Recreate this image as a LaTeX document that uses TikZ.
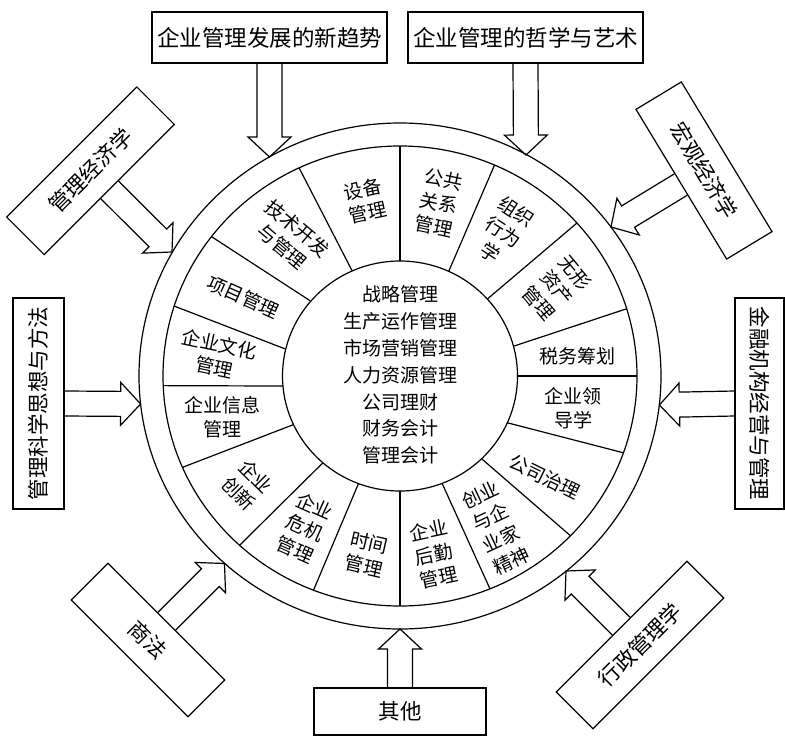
\documentclass[tikz,border=0pt]{standalone}
\usepackage{fontspec}
\setmainfont{Noto Sans CJK SC}
\usetikzlibrary{calc}
\tikzset{
  ring/.style={line width=1.2pt},
  seg/.style={align=center, inner sep=0pt, font=\fontsize{19}{24}\selectfont},
  obox/.style={draw, line width=1.2pt, inner sep=0pt, fill=white, font=\fontsize{21.5}{26}\selectfont},
  harr/.style={line width=1.2pt, line join=miter},
}
\newcommand\hollowarr[2]{%
  \coordinate (ha-s) at (#1);
  \coordinate (ha-t) at (#2);
  \coordinate (ha-b) at ($(ha-t)!20pt!(ha-s)$);
  \draw[harr] ($(ha-s)!12.5pt!90:(ha-t)$) -- ($(ha-b)!12.5pt!90:(ha-t)$) -- ($(ha-b)!21.5pt!90:(ha-t)$) -- (ha-t) -- ($(ha-b)!21.5pt!-90:(ha-t)$) -- ($(ha-b)!12.5pt!-90:(ha-t)$) -- ($(ha-s)!12.5pt!-90:(ha-t)$);
}
\begin{document}
\begin{tikzpicture}[x=1pt,y=-1pt]
\useasboundingbox (0,0) rectangle (785,737);
\fill[white] (0,0) rectangle (785,737);
% rings
\draw[ring] (400,376) ellipse [x radius=261pt, y radius=253pt];
\draw[ring] (400,376) ellipse [x radius=237pt, y radius=230pt];
\draw[ring] (400,376) ellipse [x radius=117.5pt, y radius=115pt];
% dividers
\foreach \a/\b in {90/90, 65.5/66.5, 42/41.7, 15/17, 0/0, -24/-19.5, -46/-44, -69/-67.7, -90/-90, -110.7/-111.4, -131/-132.6, -155/-156.6, -175/-177.6, 166.5/162.3, 139.4/142.7, 114/115.2}
  \draw[ring] ({400+117.5*cos(\a)},{376-115*sin(\a)}) -- ({400+237*cos(\b)},{376-230*sin(\b)});
% core
\node[seg, font=\fontsize{19}{26.8}\selectfont] (core) at (400,375) {战略管理\\生产运作管理\\市场营销管理\\人力资源管理\\公司理财\\财务会计\\管理会计};
% segment labels
\node[seg, rotate=12] (s1) at (365,201) {设备\\管理};
\node[seg, rotate=-12] (s2) at (439,203) {公共\\关系\\管理};
\node[seg, rotate=-33] (s3) at (503,232) {组织\\行为\\学};
\node[seg, rotate=-50] (s4) at (557,288) {无形\\资产\\管理};
\node[seg] (s5) at (577,356) {税务筹划};
\node[seg] (s6) at (573,408) {企业领\\导学};
\node[seg, rotate=-26] (s7) at (545,477) {公司治理};
\node[seg, rotate=25] (s8) at (496,528) {创业\\与企\\业家\\精神};
\node[seg, rotate=12] (s9) at (434,554) {企业\\后勤\\管理};
\node[seg, rotate=-13] (s10) at (366.5,554.5) {时间\\管理};
\node[seg, rotate=-24] (s11) at (305,528) {企业\\危机\\管理};
\node[seg, rotate=-45] (s12) at (247.5,485) {企业\\创新};
\node[seg] (s13) at (222,417) {企业信息\\管理};
\node[seg, rotate=-12] (s14) at (217,356) {企业文化\\管理};
\node[seg, rotate=-24] (s15) at (243,297) {项目管理};
\node[seg, rotate=-40] (s16) at (290,237.5) {技术开发\\与管理};
% outer boxes
\node[obox, minimum width=235pt, minimum height=51pt, font=\fontsize{22.5}{26}\selectfont] (b1) at (269.5,37.5) {企业管理发展的新趋势};
\node[obox, minimum width=235pt, minimum height=51pt, font=\fontsize{22.5}{26}\selectfont] (b2) at (525.5,37.5) {企业管理的哲学与艺术};
\node[obox, minimum width=184pt, minimum height=53pt, rotate=45] (b3) at (90.5,170.75) {管理经济学};
\node[obox, minimum width=175pt, minimum height=53pt, rotate=-58.8] (b4) at (704,170.5) {宏观经济学};
\node[obox, minimum width=211pt, minimum height=51pt, rotate=90] (b5) at (38.5,403.5) {管理科学思想与方法};
\node[obox, minimum width=211pt, minimum height=49pt, rotate=-90] (b6) at (759.5,403.5) {金融机构经营与管理};
\node[obox, minimum width=165pt, minimum height=52pt, rotate=-45] (b7) at (148,640) {商法};
\node[obox, minimum width=185pt, minimum height=52pt, rotate=45] (b8) at (640,645) {行政管理学};
\node[obox, minimum width=172pt, minimum height=47pt] (b9) at (400,711.5) {其他};
% tips on the outer ring
\coordinate (t1) at (269.5,157);
\coordinate (t2) at (526,155);
\coordinate (t3) at (172,252);
\coordinate (t4) at (611,227);
\coordinate (t5) at (140.6,404);
\coordinate (t6) at (659.4,405);
\coordinate (t7) at (224.5,563.5);
\coordinate (t8) at (566,571);
\coordinate (t9) at (400,629);
% arrows
\hollowarr{b1.south}{t1}
\hollowarr{b2.south}{t2}
\hollowarr{b3.south}{t3}
\hollowarr{b4.south}{t4}
\hollowarr{b5.south}{t5}
\hollowarr{b6.south}{t6}
\hollowarr{b7.north}{t7}
\hollowarr{b8.north}{t8}
\hollowarr{b9.north}{t9}
\end{tikzpicture}
\end{document}
